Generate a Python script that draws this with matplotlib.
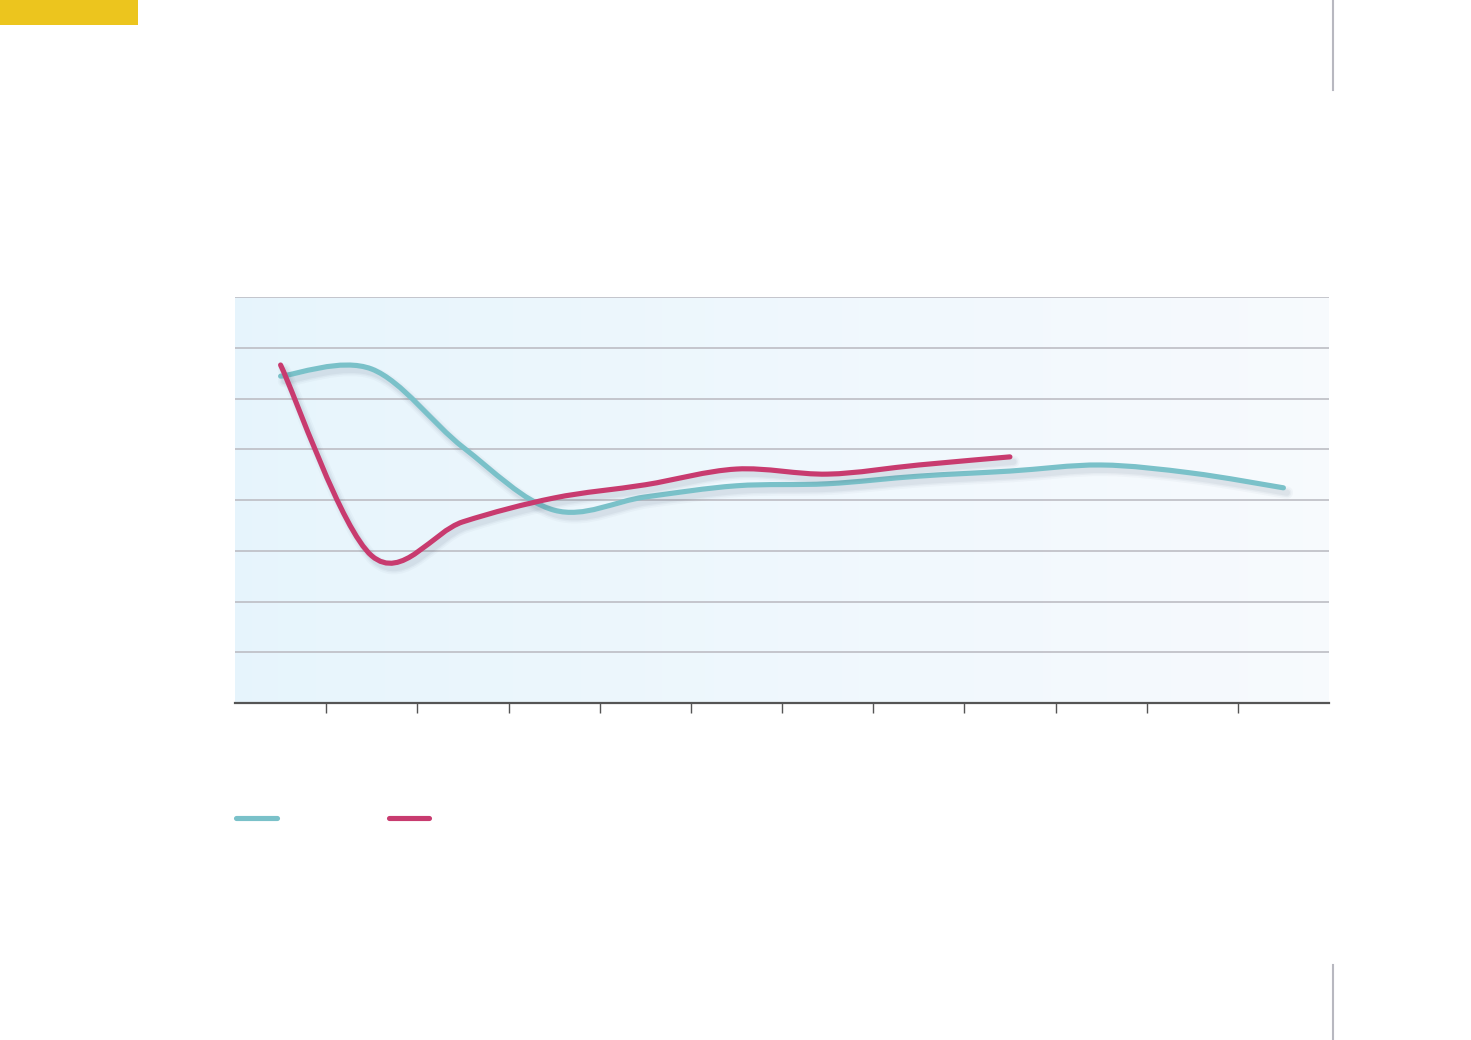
import numpy as np
import matplotlib
matplotlib.use("Agg")
import matplotlib.pyplot as plt
from matplotlib.path import Path
from matplotlib.patches import PathPatch, Rectangle
from matplotlib.lines import Line2D
import matplotlib.patheffects as pe

# ---- data (no labels present) ----
categories = list(range(1, 13))
series_teal = [6.44, 6.58, 5.04, 3.80, 4.06, 4.28, 4.32, 4.47, 4.57, 4.69, 4.53, 4.24]
series_red = [6.66, 2.90, 3.57, 4.04, 4.30, 4.61, 4.51, 4.69, 4.85]
y_min, y_max, y_step = 0, 8, 1

TEAL = "#7ac1c9"
RED = "#c83b6f"
GRID = "#bdbdc4"


def smooth_path(xs, ys):
    """Catmull-Rom style smoothed path (like a spreadsheet 'smoothed line')."""
    pts = np.column_stack([xs, ys]).astype(float)
    n = len(pts)
    verts = [tuple(pts[0])]
    codes = [Path.MOVETO]
    for i in range(n - 1):
        p0 = pts[i - 1] if i > 0 else pts[i]
        p1 = pts[i]
        p2 = pts[i + 1]
        p3 = pts[i + 2] if i + 2 < n else pts[i + 1]
        c1 = p1 + (p2 - p0) / 6.0
        c2 = p2 - (p3 - p1) / 6.0
        verts += [tuple(c1), tuple(c2), tuple(p2)]
        codes += [Path.CURVE4] * 3
    return Path(verts, codes)


W, H = 1471, 1040
fig = plt.figure(figsize=(W / 100, H / 100), dpi=100)
fig.patch.set_facecolor("white")

ax = fig.add_axes([235 / W, (H - 703) / H, (1329 - 235) / W, (703 - 297) / H])
ax.set_xlim(0.5, 12.5)
ax.set_ylim(y_min, y_max)

# gradient background
grad = np.linspace(0, 1, 256).reshape(1, -1)
c0 = np.array([0.905, 0.960, 0.990])
c1 = np.array([0.970, 0.982, 0.995])
img = c0[None, None, :] * (1 - grad[..., None]) + c1[None, None, :] * grad[..., None]
ax.imshow(img, extent=[0.5, 12.5, y_min, y_max], aspect="auto", zorder=0)

# gridlines
for yv in np.arange(y_min + y_step, y_max + 0.001, y_step):
    ax.axhline(yv, color=GRID, lw=1.2, zorder=1)

shadow = [
    pe.SimpleLineShadow(offset=(2.5, -3.5), shadow_color="#4a5a70", alpha=0.035, linewidth=9),
    pe.SimpleLineShadow(offset=(2.5, -3.5), shadow_color="#4a5a70", alpha=0.05, linewidth=6.5),
    pe.SimpleLineShadow(offset=(2.5, -3.5), shadow_color="#4a5a70", alpha=0.06, linewidth=4.5),
    pe.Normal(),
]

for data, col in [(series_teal, TEAL), (series_red, RED)]:
    xs = categories[:len(data)]
    patch = PathPatch(smooth_path(xs, data), facecolor="none", edgecolor=col,
                      lw=3.7, capstyle="round", joinstyle="round", zorder=3)
    patch.set_path_effects(shadow)
    ax.add_patch(patch)

for s in ["left", "right", "top"]:
    ax.spines[s].set_visible(False)
ax.spines["bottom"].set_color("#555555")
ax.spines["bottom"].set_linewidth(1.6)
ax.set_xticks(np.arange(1.5, 12.0, 1.0))
ax.set_xticklabels([])
ax.set_yticks([])
ax.tick_params(axis="x", direction="out", length=7.5, width=1.0, color="#555555")

# legend swatches (no text)
for x0, x1, col in [(236, 277, TEAL), (389, 429, RED)]:
    fig.add_artist(Line2D([x0 / W, x1 / W], [(H - 818) / H] * 2, color=col,
                          lw=3.7, solid_capstyle="round"))

# decorative page elements
fig.add_artist(Rectangle((0, (H - 25) / H), 138 / W, 25 / H, facecolor="#ecc51e",
                         edgecolor="none", transform=fig.transFigure))
fig.add_artist(Line2D([1333 / W] * 2, [1, (H - 90) / H], color="#b8b8c0", lw=1.5))
fig.add_artist(Line2D([1333 / W] * 2, [(H - 965) / H, 0], color="#b8b8c0", lw=1.5))

fig.savefig("out.png", dpi=100, facecolor="white")
